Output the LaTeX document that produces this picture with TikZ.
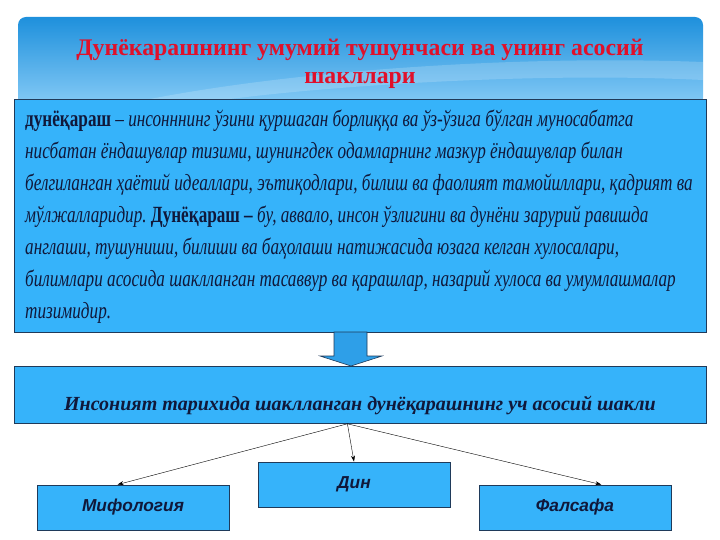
\documentclass[tikz,border=0pt]{standalone}
\usepackage{fontspec}
\setmainfont{Liberation Serif}
\newfontfamily\narrowserif[FakeStretch=0.74]{Liberation Serif}
\newfontfamily\boxsans{Liberation Sans}
\usetikzlibrary{arrows.meta}
\definecolor{boxblue}{HTML}{36B3FA}
\definecolor{boxline}{HTML}{1F3A5A}
\definecolor{inktext}{HTML}{10183A}
\definecolor{titlered}{HTML}{E0102A}
\definecolor{bannertop}{HTML}{1E90DC}
\definecolor{bannerbot}{HTML}{86CBF6}
\definecolor{arrowblue}{HTML}{2E9FE8}
\frenchspacing
\begin{document}
\begin{tikzpicture}[x=1pt,y=-1pt,
    box/.style={draw=boxline,fill=boxblue,line width=0.8pt},
    formbox/.style={box,minimum width=192pt,minimum height=45pt,
        font=\boxsans\bfseries\itshape\fontsize{17.3}{19}\selectfont,text=inktext},
    link/.style={-{Stealth[length=6pt,width=4pt]},line width=0.4pt}]
\useasboundingbox (0,0) rectangle (720,540);
% title banner
\shade[top color=bannertop,bottom color=bannerbot,rounded corners=8pt] (18,17) rectangle (703,106);
\fill[white,opacity=0.18] (150,99) .. controls (300,70) and (520,55) .. (703,62) -- (703,80) .. controls (540,72) and (340,85) .. (230,99) -- cycle;
\node[align=center,text=titlered,font=\bfseries\fontsize{23.8}{28}\selectfont] (title) at (360,63.5)
    {Дунёкарашнинг умумий тушунчаси ва унинг асосий\\шакллари};
% definition
\node[box,anchor=north west,minimum width=692pt,minimum height=233pt] (defn) at (14,99) {};
\node[anchor=base west,align=left,inner sep=0pt,text=inktext,
      font=\narrowserif\itshape\fontsize{23.2}{32}\selectfont] (deftext) at (25,318)
    {{\upshape\bfseries дунёқараш} – инсонннинг ўзини қуршаган борлиққа ва ўз-ўзига бўлган муносабатга\\
     нисбатан ёндашувлар тизими, шунингдек одамларнинг мазкур ёндашувлар билан\\
     белгиланган ҳаётий идеаллари, эътиқодлари, билиш ва фаолият тамойиллари, қадрият ва\\
     мўлжалларидир. {\upshape\bfseries Дунёқараш –} бу, аввало, инсон ўзлигини ва дунёни зарурий равишда\\
     англаши, тушуниши, билиши ва баҳолаши натижасида юзага келган хулосалари,\\
     билимлари асосида шаклланган тасаввур ва қарашлар, назарий хулоса ва умумлашмалар\\
     тизимидир.};
\draw[fill=arrowblue,draw=boxline,line width=0.6pt]
    (334,332) -- (367,332) -- (367,356) -- (382,356) -- (351,366) -- (320,356) -- (334,356) -- cycle;
% three forms
\node[box,anchor=north west,minimum width=692pt,minimum height=57pt] (forms) at (14,366) {};
\node[anchor=base,text=inktext,inner sep=0pt,
      font=\bfseries\itshape\fontsize{20}{24}\selectfont] (formstitle) at (360,410)
    {Инсоният тарихида шаклланган дунёқарашнинг уч асосий шакли};
\node[formbox] (myth) at (133,507.5) {Мифология};
\node[formbox] (din) at (354,484.5) {Дин};
\node[formbox] (phil) at (575,507.5) {Фалсафа};
\coordinate (hub) at ([xshift=-13pt]forms.south);
\draw[link] (hub) -- (myth.124);
\draw[link] (hub) -- (din.north);
\draw[link] (hub) -- (phil.41);
\end{tikzpicture}
\end{document}
